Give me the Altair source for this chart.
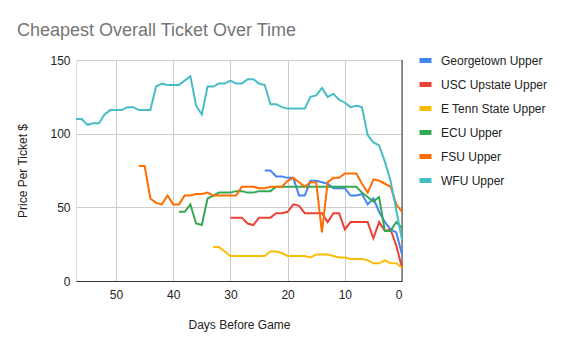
import altair as alt
import pandas as pd

series_names = ["Georgetown Upper", "USC Upstate Upper", "E Tenn State Upper",
                "ECU Upper", "FSU Upper", "WFU Upper"]
series_colors = ["#4285F4", "#EA4335", "#FBBC04", "#34A853", "#FF6D01", "#46BDC6"]

# first day (days before game) of each series; values run down to day 0
georgetown_start = 24
georgetown = [75, 75, 71, 71, 70, 70, 58, 58, 68, 68, 67, 66, 63, 63, 63, 58, 58, 59, 52, 56,
              47, 40, 35, 33, 18]
usc_start = 30
usc = [43, 43, 43, 39, 38, 43, 43, 43, 46, 46, 47, 52, 51, 46, 46, 46, 46, 40, 46, 46,
       35, 40, 40, 40, 40, 29, 40, 34, 35, 24, 9]
etsu_start = 33
etsu = [23, 23, 20, 17, 17, 17, 17, 17, 17, 17, 20, 20, 19, 17, 17, 17, 17, 16, 18, 18,
        18, 17, 16, 16, 15, 15, 15, 14, 12, 12, 14, 12, 12, 9]
ecu_start = 39
ecu = [47, 47, 52, 39, 38, 56, 58, 60, 60, 60, 61, 61, 60, 60, 61, 61, 61,
       64, 64, 64, 64, 64, 64, 64, 64, 64, 64, 64, 64, 64, 64, 64,
       60, 57, 54, 57, 34, 34, 40, 36]
fsu_start = 46
fsu = [78, 78, 56, 53, 52, 58, 52, 52, 58, 58, 59, 59, 60, 58, 58, 58, 58, 58, 64, 64,
       64, 63, 63, 64, 64, 64, 68, 70, 67, 64, 67, 67, 33, 67, 70, 70, 73, 73, 73, 66,
       60, 69, 68, 66, 64, 52, 47]
wfu_start = 57
wfu = [110, 110, 106, 107, 107, 113, 116, 116, 116, 118, 118, 116, 116, 116, 132, 134, 133, 133, 133, 136,
       139, 119, 113, 132, 132, 134, 134, 136, 134, 134, 137, 137, 134, 133, 120, 120, 118, 117, 117, 117,
       117, 125, 126, 131, 125, 127, 123, 121, 118, 119, 118, 99, 94, 92, 81, 68, 48, 28]

x_ticks = [0, 10, 20, 30, 40, 50]
y_ticks = [0, 50, 100, 150]

series = [
    (series_names[0], georgetown_start, georgetown),
    (series_names[1], usc_start, usc),
    (series_names[2], etsu_start, etsu),
    (series_names[3], ecu_start, ecu),
    (series_names[4], fsu_start, fsu),
    (series_names[5], wfu_start, wfu),
]
rows = []
for name, start, vals in series:
    for i, v in enumerate(vals):
        rows.append({"series": name, "days": start - i, "price": v})
df = pd.DataFrame(rows)

FONT = "Arial"

x_enc = alt.X("days:Q",
              scale=alt.Scale(domain=[0, 57], reverse=True, nice=False, zero=False),
              axis=alt.Axis(values=x_ticks, title="Days Before Game", grid=True,
                            gridColor="#cccccc", domainColor="#333333", ticks=False,
                            labelPadding=8, labelFontSize=12, labelColor="#222222",
                            labelFont=FONT, titleFont=FONT, titleFontSize=12,
                            titleFontWeight="normal", titleColor="#222222", titlePadding=19))

lines = alt.Chart(df).mark_line(strokeWidth=2).encode(
    x=x_enc,
    y=alt.Y("price:Q", scale=alt.Scale(domain=[0, 150], nice=False),
            axis=alt.Axis(values=y_ticks, title="Price Per Ticket $", domain=False, ticks=False,
                          grid=True, gridColor="#cccccc", labelPadding=6, labelFontSize=12,
                          labelColor="#222222", labelFont=FONT, titleFont=FONT, titleFontSize=12,
                          titleFontWeight="normal", titleColor="#222222", titlePadding=20)),
    color=alt.Color("series:N", scale=alt.Scale(domain=series_names, range=series_colors),
                    legend=alt.Legend(title=None, orient="none", legendX=341, legendY=-8,
                                      symbolType="stroke", symbolStrokeWidth=5, symbolSize=144,
                                      labelFontSize=12, labelFont=FONT, labelColor="#222222",
                                      rowPadding=3, labelOffset=7, padding=0)),
)

zero_line = alt.Chart(pd.DataFrame({"days": [0]})).mark_rule(color="#333333", strokeWidth=1).encode(
    x=alt.X("days:Q")
)

chart = alt.layer(zero_line, lines).properties(
    width=326, height=221,
    title=alt.TitleParams("Cheapest Overall Ticket Over Time", anchor="start", frame="group",
                          fontSize=18, font=FONT, color="#757575", fontWeight="normal",
                          dx=-59, offset=12),
    autosize=alt.AutoSizeParams(type="none"),
    padding={"left": 76, "top": 60, "right": 166, "bottom": 70},
).configure_view(stroke=None).configure(background="white")

chart.save("out.html", embed_options={"renderer": "svg", "actions": False})
